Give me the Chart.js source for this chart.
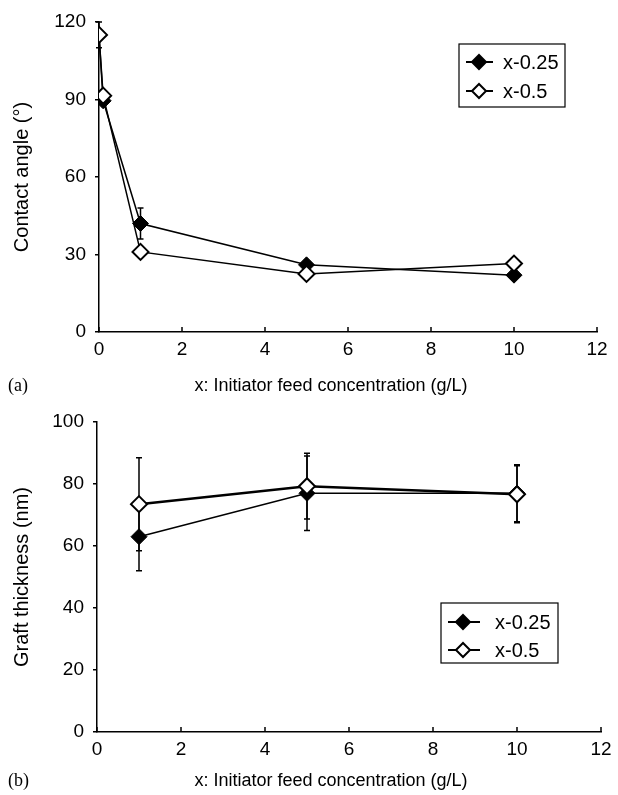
<!DOCTYPE html>
<html>
<head>
<meta charset="utf-8">
<script src="https://cdn.jsdelivr.net/npm/chart.js@4.4.0/dist/chart.umd.min.js"></script>
<style>
  html, body { margin: 0; padding: 0; background: #fff; }
  .panel { position: relative; width: 618px; }
  #top { height: 395px; }
  #bottom { height: 400px; }
</style>
</head>
<body>
<div class="panel" id="top"><canvas id="angleChart"></canvas></div>
<div class="panel" id="bottom"><canvas id="thickChart"></canvas></div>
<script>
// (a) contact angle vs initiator feed concentration
const angleX = [0, 0.1, 1, 5, 10];
const angleLow = [115, 89.5, 42, 26, 22];       // x-0.25
const angleHigh = [115, 91.5, 31, 22.5, 26.5];  // x-0.5
const angleLowErr = [0, 0, 6, 0, 0];
const angleHighErr = [5, 0, 0, 0, 0];

// (b) graft thickness
const thickX = [1, 5, 10];
const thickLow = [63, 77, 77];
const thickHigh = [73.5, 79.3, 76.7];
const thickLowErr = [11, 12, 9.2];
const thickHighErr = [15, 10.6, 9.2];

const seriesNames = ['x-0.25', 'x-0.5'];
const xTitle = 'x: Initiator feed concentration (g/L)';

Chart.defaults.font.family = "'Liberation Sans', Arial, sans-serif";
Chart.defaults.color = '#000';

function pts(xs, ys) {
  return xs.map((x, i) => ({ x: x, y: ys[i] }));
}

function diamond(ctx, x, y, r, filled) {
  ctx.beginPath();
  ctx.moveTo(x - r, y);
  ctx.lineTo(x, y - r);
  ctx.lineTo(x + r, y);
  ctx.lineTo(x, y + r);
  ctx.closePath();
  ctx.fillStyle = filled ? '#000' : '#fff';
  ctx.fill();
  ctx.lineWidth = 2;
  ctx.strokeStyle = '#000';
  ctx.stroke();
}

// vertical error bars, drawn under the markers
const errorBars = {
  id: 'errorBars',
  beforeDatasetsDraw(chart) {
    const ctx = chart.ctx, xs = chart.scales.x, ys = chart.scales.y;
    ctx.save();
    ctx.strokeStyle = '#000';
    ctx.lineWidth = 1.5;
    chart.data.datasets.forEach(ds => {
      if (!ds.errors) return;
      ds.data.forEach((p, i) => {
        const e = ds.errors[i];
        if (!e) return;
        const px = xs.getPixelForValue(p.x);
        const t = ys.getPixelForValue(p.y + e);
        const b = ys.getPixelForValue(p.y - e);
        ctx.beginPath();
        ctx.moveTo(px, t); ctx.lineTo(px, b);
        ctx.moveTo(px - 3, t); ctx.lineTo(px + 3, t);
        ctx.moveTo(px - 3, b); ctx.lineTo(px + 3, b);
        ctx.stroke();
      });
    });
    ctx.restore();
  }
};

// small tick marks pointing up into the plot
const innerTicks = {
  id: 'innerTicks',
  afterDraw(chart) {
    const ctx = chart.ctx, xs = chart.scales.x, ys = chart.scales.y;
    ctx.save();
    ctx.strokeStyle = '#000';
    ctx.lineWidth = 1.5;
    xs.ticks.forEach(t => {
      const px = xs.getPixelForValue(t.value);
      ctx.beginPath();
      ctx.moveTo(px, ys.bottom);
      ctx.lineTo(px, ys.bottom - 5);
      ctx.stroke();
    });
    ctx.restore();
  }
};

// framed legend placed inside the plot
const boxLegend = {
  id: 'boxLegend',
  afterDraw(chart, args, o) {
    const ctx = chart.ctx;
    ctx.save();
    ctx.strokeStyle = '#000';
    ctx.lineWidth = 1.2;
    ctx.strokeRect(o.left, o.top, o.width, o.height);
    ctx.font = o.fontSize + "px 'Liberation Sans', Arial, sans-serif";
    ctx.textBaseline = 'middle';
    chart.data.datasets.forEach((ds, i) => {
      const y = o.top + o.firstRow + i * o.rowGap;
      ctx.beginPath();
      ctx.lineWidth = 2;
      ctx.moveTo(o.left + o.lineFrom, y);
      ctx.lineTo(o.left + o.lineTo, y);
      ctx.stroke();
      diamond(ctx, o.left + o.markAt, y, 7, ds.backgroundColor === '#000');
      ctx.fillStyle = '#000';
      ctx.fillText(ds.label, o.left + o.textAt, y + 1);
    });
    ctx.restore();
  }
};

// panel letter and x axis title
const panelText = {
  id: 'panelText',
  afterDraw(chart, args, o) {
    const ctx = chart.ctx;
    ctx.save();
    ctx.fillStyle = '#000';
    ctx.textBaseline = 'middle';
    ctx.font = "18px 'Liberation Serif', 'Times New Roman', serif";
    ctx.textAlign = 'left';
    ctx.fillText(o.label, 8, o.y);
    ctx.font = "18px 'Liberation Sans', Arial, sans-serif";
    ctx.textAlign = 'center';
    ctx.fillText(o.title, o.titleX, o.y);
    ctx.restore();
  }
};

function makeDatasets(xs, low, high, lowErr, highErr, lineW) {
  return [
    {
      label: seriesNames[0],
      data: pts(xs, low),
      errors: lowErr,
      showLine: true,
      borderColor: '#000',
      backgroundColor: '#000',
      borderWidth: lineW[0],
      pointStyle: 'rectRot',
      pointRadius: 8,
      pointBorderWidth: 1,
      pointBackgroundColor: '#000',
      order: 1
    },
    {
      label: seriesNames[1],
      data: pts(xs, high),
      errors: highErr,
      showLine: true,
      borderColor: '#000',
      backgroundColor: '#fff',
      borderWidth: lineW[1],
      pointStyle: 'rectRot',
      pointRadius: 8,
      pointBorderWidth: 2,
      pointBackgroundColor: '#fff',
      order: 0
    }
  ];
}

function makeOptions(cfg) {
  return {
    responsive: true,
    maintainAspectRatio: false,
    devicePixelRatio: 1,
    animation: false,
    layout: { padding: { top: cfg.padTop, right: cfg.padRight, left: 0, bottom: 0 } },
    scales: {
      x: {
        type: 'linear',
        min: 0, max: 12,
        ticks: { stepSize: 2, padding: 6, font: { size: 19 } },
        grid: { display: false, drawTicks: false },
        border: { color: '#000', width: 1.5 },
        afterFit: s => { s.height = 63; }
      },
      y: {
        min: 0, max: cfg.yMax,
        ticks: { stepSize: cfg.yStep, padding: 9, font: { size: 19 } },
        grid: { drawOnChartArea: false, drawTicks: true, tickLength: 4, color: '#000', lineWidth: 1.5 },
        border: { color: '#000', width: 1.5 },
        title: { display: true, text: cfg.yTitle, font: { size: 20 }, padding: { top: 10, bottom: 0 } },
        afterFit: s => { s.width = cfg.yWidth; }
      }
    },
    plugins: {
      legend: { display: false },
      tooltip: { enabled: false },
      boxLegend: cfg.legend,
      panelText: { label: cfg.label, title: xTitle, titleX: 331, y: 386 }
    }
  };
}

new Chart(document.getElementById('angleChart'), {
  type: 'scatter',
  data: { datasets: makeDatasets(angleX, angleLow, angleHigh, angleLowErr, angleHighErr, [1.5, 1.5]) },
  options: makeOptions({
    padTop: 22, padRight: 21, yMax: 120, yStep: 30, yWidth: 99,
    yTitle: 'Contact angle (°)', label: '(a)',
    legend: { left: 459, top: 44, width: 106, height: 63, firstRow: 18, rowGap: 29,
              lineFrom: 7, lineTo: 34, markAt: 20, textAt: 44, fontSize: 20 }
  }),
  plugins: [errorBars, innerTicks, boxLegend, panelText]
});

new Chart(document.getElementById('thickChart'), {
  type: 'scatter',
  data: { datasets: makeDatasets(thickX, thickLow, thickHigh, thickLowErr, thickHighErr, [1.5, 2.5]) },
  options: makeOptions({
    padTop: 27, padRight: 17, yMax: 100, yStep: 20, yWidth: 97,
    yTitle: 'Graft thickness (nm)', label: '(b)',
    legend: { left: 441, top: 208, width: 117, height: 60, firstRow: 19, rowGap: 28,
              lineFrom: 7, lineTo: 39, markAt: 22, textAt: 54, fontSize: 20 }
  }),
  plugins: [errorBars, innerTicks, boxLegend, panelText]
});
</script>
</body>
</html>
